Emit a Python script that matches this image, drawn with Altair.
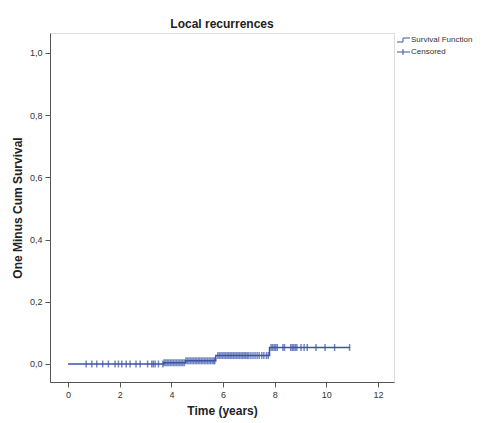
import altair as alt
import pandas as pd
import numpy as np

# Step function (one minus cumulative survival)
step_times = [0.0, 3.7, 4.55, 5.72, 7.8, 10.92]
step_values = [0.0, 0.004, 0.010, 0.027, 0.053, 0.053]

# Censored times (years)
censored = [0.70, 0.92, 1.11, 1.34, 1.56, 1.82, 1.95, 2.08, 2.25, 2.40, 2.63, 2.79,
            3.08, 3.24, 3.30, 3.37, 3.50, 3.67, 3.72, 3.78, 3.84, 3.90, 3.96, 4.02,
            4.08, 4.14, 4.20, 4.26, 4.32, 4.38, 4.44, 4.50, 4.56, 4.62, 4.68, 4.74,
            4.80, 4.86, 4.92, 4.98, 5.04, 5.10, 5.16, 5.22, 5.28, 5.34, 5.40, 5.46,
            5.52, 5.58, 5.64, 5.68,
            5.80, 5.86, 5.92, 5.98, 6.04, 6.10, 6.16, 6.22, 6.28, 6.34, 6.40, 6.46,
            6.52, 6.58, 6.64, 6.70, 6.76, 6.82, 6.88, 6.94, 7.00, 7.08, 7.16, 7.24,
            7.32, 7.40, 7.50, 7.58, 7.68, 7.75,
            7.86, 7.92, 7.98, 8.04, 8.10, 8.32, 8.38, 8.62, 8.68, 8.74, 8.80, 8.86,
            9.02, 9.14, 9.26, 9.60, 9.95, 10.32, 10.90]

legend_labels = ["Survival Function", "Censored"]

BLUE = "#3B54A5"

line_df = pd.DataFrame({"time": step_times, "value": step_values})
idx = np.searchsorted(np.array(step_times), np.array(censored), side="right") - 1
cens_df = pd.DataFrame({"time": censored, "value": [step_values[i] for i in idx]})

xscale = alt.Scale(domain=[-0.7, 12.62], nice=False, zero=False)
yscale = alt.Scale(domain=[-0.058, 1.064], nice=False, zero=False)

xaxis = alt.Axis(values=[0, 2, 4, 6, 8, 10, 12], title="Time (years)", grid=False,
                 labelFont="Liberation Sans", labelFontSize=9, labelColor="#333333",
                 titleFont="Liberation Sans", titleFontSize=12, titleFontWeight="bold",
                 titleColor="#222222", tickSize=5, tickColor="#555555", domainColor="#555555",
                 labelPadding=3, titlePadding=6)
yaxis = alt.Axis(values=[0, 0.2, 0.4, 0.6, 0.8, 1.0], title="One Minus Cum Survival", grid=False,
                 labelExpr="replace(format(datum.value, '.1f'), '.', ',')",
                 labelFont="Liberation Sans", labelFontSize=9, labelColor="#333333",
                 titleFont="Liberation Sans", titleFontSize=12, titleFontWeight="bold",
                 titleColor="#222222", tickSize=5, tickColor="#555555", domainColor="#555555",
                 labelPadding=3, titlePadding=5)

line = alt.Chart(line_df).mark_line(interpolate="step-after", color=BLUE, strokeWidth=1.5).encode(
    x=alt.X("time:Q", scale=xscale, axis=xaxis),
    y=alt.Y("value:Q", scale=yscale, axis=yaxis),
)

ticks = alt.Chart(cens_df).mark_tick(orient="vertical", color=BLUE, size=7, thickness=1.5).encode(
    x=alt.X("time:Q", scale=xscale),
    y=alt.Y("value:Q", scale=yscale),
)

def text(label, yy):
    return alt.Chart(pd.DataFrame({"label": [label]})).mark_text(
        align="left", baseline="middle", font="Liberation Sans", fontSize=8, color="#333333"
    ).encode(x=alt.value(361), y=alt.value(yy), text="label:N")

def rule(**kw):
    return alt.Chart(pd.DataFrame({"a": [0]})).mark_rule(color=BLUE, strokeWidth=1).encode(**kw)

legend = [
    rule(x=alt.value(347), x2=alt.value(353), y=alt.value(9)),
    rule(x=alt.value(353), y=alt.value(5), y2=alt.value(9)),
    rule(x=alt.value(353), x2=alt.value(360), y=alt.value(5)),
    rule(x=alt.value(347), x2=alt.value(360), y=alt.value(19)),
    rule(x=alt.value(353), y=alt.value(16), y2=alt.value(22)),
    text(legend_labels[0], 7),
    text(legend_labels[1], 19),
]

chart = alt.layer(line, ticks, *legend).properties(
    width=344, height=349,
    autosize=alt.AutoSizeParams(type="none"),
    padding={"left": 50, "top": 33, "right": 93, "bottom": 41},
    title=alt.Title("Local recurrences", font="Liberation Sans", fontSize=12,
                    fontWeight="bold", color="#222222", anchor="middle", offset=2),
).configure_view(stroke="#777777", strokeWidth=1).configure(background="white")

chart.save("out.html", embed_options={"renderer": "svg", "actions": False})
